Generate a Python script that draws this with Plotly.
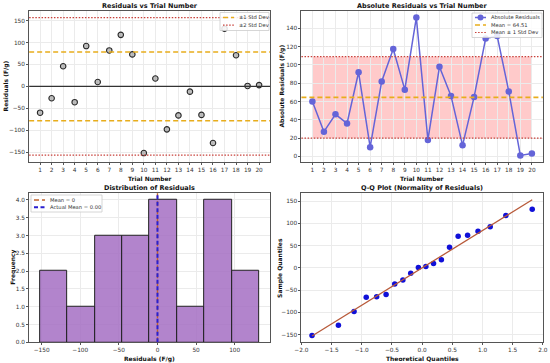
import numpy as np
import plotly.graph_objects as go

# ---------------- data ----------------
trials = list(range(1, 21))
residuals = [-60, -27, 46, -36, 92, 10, 82, 117.5, 73, -152,
             18, -98, -66.1, -12, -65, -129, 131.6, 71, 1, 3]
theoretical_q = [-1.824, -1.387, -1.128, -0.926, -0.753, -0.597, -0.454, -0.319, -0.189, -0.062,
                 0.062, 0.189, 0.319, 0.454, 0.597, 0.753, 0.926, 1.128, 1.387, 1.824]
n_bins = 8

res = np.array(residuals, dtype=float)
abs_res = np.abs(res)
res_mean = float(np.mean(res))
res_std = float(np.std(res))
abs_mean = float(np.mean(abs_res))
abs_std = float(np.std(abs_res))
sample_q = np.sort(res)
slope, intercept = np.polyfit(theoretical_q, sample_q, 1)
counts, edges = np.histogram(res, bins=n_bins)
centers = (edges[:-1] + edges[1:]) / 2
widths = np.diff(edges)

W, H = 550, 363
FONT = "DejaVu Sans"
ORANGE = "#e8ad1c"
RED = "#c8403a"
PURPLE_LINE = "#6464d8"
BROWN = "#c0622a"
BLUE = "#2a1fd0"
DASH = "5px,3px"
DOT = "1.5px,1.6px"
TICK_SIZE = 5.8
LABEL_SIZE = 6
TITLE_SIZE = 6.5
LEGEND_SIZE = 5.2

fig = go.Figure()
shapes = []
annotations = []

def hline(y, xref, yref, color, width, dash, layer="above"):
    shapes.append(dict(type="line", xref=xref, yref=yref, x0=0, x1=1, y0=y, y1=y,
                       line=dict(color=color, width=width, dash=dash), layer=layer))

# -------- top-left: residuals vs trial --------
fig.add_trace(go.Scatter(
    x=trials, y=residuals, mode="markers", showlegend=False,
    marker=dict(size=5.5, color="rgba(130,130,130,0.5)", line=dict(color="#2a2a2a", width=1.1)),
    xaxis="x", yaxis="y"))
hline(0, "x domain", "y", "#333333", 1.1, "solid")
for s in (1, -1):
    hline(s * res_std, "x domain", "y", ORANGE, 1.6, DASH)
    hline(s * 2 * res_std, "x domain", "y", RED, 1.2, DOT)

# -------- top-right: absolute residuals --------
shapes.append(dict(type="rect", xref="x2", yref="y2", x0=trials[0], x1=trials[-1],
                   y0=abs_mean - abs_std, y1=abs_mean + abs_std,
                   fillcolor="rgba(255,80,80,0.3)", line=dict(width=0), layer="below"))
fig.add_trace(go.Scatter(
    x=trials, y=abs_res, mode="lines+markers", showlegend=False,
    line=dict(color=PURPLE_LINE, width=1.5),
    marker=dict(size=6.5, color=PURPLE_LINE),
    xaxis="x2", yaxis="y2"))
hline(abs_mean, "x2 domain", "y2", ORANGE, 1.6, DASH)
hline(abs_mean + abs_std, "x2 domain", "y2", RED, 1.2, DOT)
hline(abs_mean - abs_std, "x2 domain", "y2", RED, 1.2, DOT)

# -------- bottom-left: histogram --------
fig.add_trace(go.Bar(
    x=centers, y=counts, width=widths, showlegend=False,
    marker=dict(color="rgba(165,110,195,0.85)", line=dict(color="#222222", width=1)),
    xaxis="x3", yaxis="y3"))
shapes.append(dict(type="line", xref="x3", yref="y3 domain", x0=0, x1=0, y0=0, y1=1,
                   line=dict(color=BROWN, width=1.4, dash=DASH)))
shapes.append(dict(type="line", xref="x3", yref="y3 domain", x0=res_mean, x1=res_mean, y0=0, y1=1,
                   line=dict(color=BLUE, width=2, dash="4px,2.5px")))

# -------- bottom-right: Q-Q --------
fig.add_trace(go.Scatter(
    x=theoretical_q, y=sample_q, mode="markers", showlegend=False,
    marker=dict(size=5.5, color="#1010d8"), xaxis="x4", yaxis="y4"))
qx = np.array([theoretical_q[0], theoretical_q[-1]])
fig.add_trace(go.Scatter(
    x=qx, y=slope * qx + intercept, mode="lines", showlegend=False,
    line=dict(color="#b85a3a", width=1.3), xaxis="x4", yaxis="y4"))

# -------- axes --------
def ax(domain, anchor, **kw):
    d = dict(domain=domain, anchor=anchor, showline=True, linecolor="#555555", linewidth=1,
             mirror=True, ticks="outside", ticklen=2, tickcolor="#555555",
             tickfont=dict(size=TICK_SIZE, color="#333333", family=FONT), automargin=False,
             showgrid=True, gridcolor="#ebebeb", gridwidth=0.8, zeroline=False)
    d.update(kw)
    return d

XL = [0.053, 0.491]
XR = [0.548, 0.987]
YT = [0.553, 0.971]
YB = [0.057, 0.469]

layout_axes = dict(
    xaxis=ax(XL, "y", range=[0.05, 20.95], tickmode="array", tickvals=trials),
    yaxis=ax(YT, "x", range=[-173, 173], dtick=50),
    xaxis2=ax(XR, "y2", range=[0.05, 20.95], tickmode="array", tickvals=trials),
    yaxis2=ax(YT, "x2", range=[-6.5, 159.6], dtick=20),
    xaxis3=ax(XL, "y3", range=[-166.2, 145.8], dtick=50),
    yaxis3=ax(YB, "x3", range=[0, 4.2], dtick=0.5, tickformat=".1f"),
    xaxis4=ax(XR, "y4", range=[-2.0, 2.0], dtick=0.5, tickformat=".1f"),
    yaxis4=ax(YB, "x4", range=[-167, 168.5], dtick=50),
)

def ann(text, x, y, size, angle=0):
    annotations.append(dict(text=f"<b>{text}</b>", x=x, y=y, xref="paper", yref="paper",
                            showarrow=False, textangle=angle, xanchor="center", yanchor="middle",
                            font=dict(size=size, color="#111111", family=FONT)))

ann("Residuals vs Trial Number", sum(XL) / 2, 0.984, TITLE_SIZE)
ann("Absolute Residuals vs Trial Number", sum(XR) / 2, 0.984, TITLE_SIZE)
ann("Distribution of Residuals", sum(XL) / 2, 0.483, TITLE_SIZE)
ann("Q-Q Plot (Normality of Residuals)", sum(XR) / 2, 0.483, TITLE_SIZE)
ann("Trial Number", sum(XL) / 2, 0.507, LABEL_SIZE)
ann("Trial Number", sum(XR) / 2, 0.507, LABEL_SIZE)
ann("Residuals (F/g)", sum(XL) / 2, 0.012, LABEL_SIZE)
ann("Theoretical Quantiles", sum(XR) / 2, 0.012, LABEL_SIZE)
ann("Residuals (F/g)", 0.011, sum(YT) / 2, LABEL_SIZE, -90)
ann("Absolute Residuals (F/g)", 0.513, sum(YT) / 2, LABEL_SIZE, -90)
ann("Frequency", 0.022, sum(YB) / 2, LABEL_SIZE, -90)
ann("Sample Quantiles", 0.508, sum(YB) / 2, LABEL_SIZE, -90)

# -------- hand-built legends (pixel layout -> paper coords) --------
def px(x):
    return x / W

def py(y):
    return 1 - y / H

def legend(box, items):
    x0, y0, x1, y1 = box
    shapes.append(dict(type="rect", xref="paper", yref="paper",
                       x0=px(x0), x1=px(x1), y0=py(y0), y1=py(y1),
                       fillcolor="rgba(255,255,255,0.85)", line=dict(color="#cccccc", width=0.8),
                       layer="above"))
    for (yy, label, color, width, dash, marker) in items:
        shapes.append(dict(type="line", xref="paper", yref="paper",
                           x0=px(x0 + 3), x1=px(x0 + 14), y0=py(yy), y1=py(yy),
                           line=dict(color=color, width=width, dash=dash), layer="above"))
        if marker:
            shapes.append(dict(type="circle", xref="paper", yref="paper",
                               x0=px(x0 + 5.5), x1=px(x0 + 11.5), y0=py(yy - 3), y1=py(yy + 3),
                               fillcolor=color, line=dict(width=0), layer="above"))
        annotations.append(dict(text=label, x=px(x0 + 17), y=py(yy), xref="paper", yref="paper",
                                showarrow=False, xanchor="left", yanchor="middle",
                                font=dict(size=LEGEND_SIZE, color="#333333", family=FONT)))

legend((220, 12.5, 269, 30.5), [
    (17.5, "±1 Std Dev", ORANGE, 1.6, DASH, False),
    (25.2, "±2 Std Dev", RED, 1.2, DOT, False),
])
legend((472, 13, 542, 37.5), [
    (17.5, "Absolute Residuals", PURPLE_LINE, 1.5, "solid", True),
    (25.0, f"Mean = {abs_mean:.2f}", ORANGE, 1.6, DASH, False),
    (32.5, "Mean ± 1 Std Dev", RED, 1.2, DOT, False),
])
legend((31, 195, 102, 212), [
    (200.0, "Mean = 0", BROWN, 1.4, DASH, False),
    (207.3, f"Actual Mean = {round(res_mean, 2) + 0.0:.2f}", BLUE, 2, "4px,2.5px", False),
])

fig.update_layout(
    width=W, height=H,
    margin=dict(l=0, r=0, t=0, b=0, autoexpand=False),
    paper_bgcolor="white", plot_bgcolor="white",
    font=dict(family=FONT, size=7, color="#333333"),
    shapes=shapes, annotations=annotations,
    showlegend=False, bargap=0,
    **layout_axes,
)

fig.write_html("out.html", config={"displayModeBar": False},
               post_script="document.body.style.margin='0';")
